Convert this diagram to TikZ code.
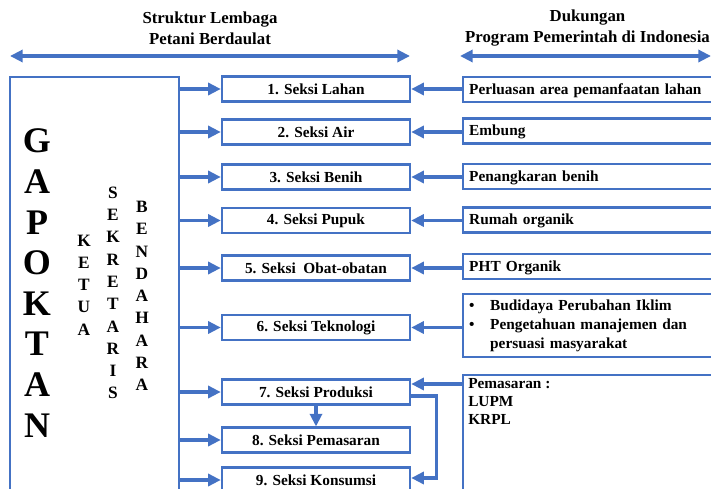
\documentclass[tikz,border=0pt]{standalone}
\usepackage{fontspec}
\setmainfont{Liberation Serif}
\usetikzlibrary{arrows.meta,calc}
\definecolor{bl}{RGB}{68,114,196}
\begin{document}
\begin{tikzpicture}[x=0.75pt,y=-0.75pt,
  ttl/.style={font=\fontsize{12.6}{15.75}\selectfont\bfseries, align=center, inner sep=0pt},
  sek/.style={draw=bl, line width=1.8pt, fill=white, minimum width=141pt,
    minimum height=18.5pt, inner sep=0pt, font=\fontsize{11.5}{13}\selectfont\bfseries},
  rbox/.style={draw=bl, line width=1.8pt, anchor=west, minimum height=18.5pt,
    text width=184.5pt, inner xsep=4.5pt, inner ysep=0pt, align=left,
    font=\fontsize{11.5}{14.25}\selectfont\bfseries},
  rline/.style={rbox, text height=8.2pt, text depth=1.2pt},
  stack/.style={align=center, inner sep=0pt, font=\fontsize{13}{16.7}\selectfont\bfseries},
  tip/.tip={Triangle[length=9.5pt,width=9pt]},
  arr/.style={draw=bl, line width=2.5pt, -tip},
  darr/.style={draw=bl, line width=2.5pt, tip-tip}
]
\clip (0,0) rectangle (711,489);

% column headings
\node[ttl] (t1) at (210,28.5) {Struktur Lembaga\\Petani Berdaulat};
\node[ttl] (t2) at (587.5,28.5) {Dukungan\\Program Pemerintah di Indonesia};
\coordinate (la) at (10,56);
\coordinate (lb) at (410,56);
\coordinate (ra) at (460,56);
\coordinate (rb) at (711,56);
\draw[darr] (la) -- (lb);
\draw[darr] (ra) -- (rb);

% GAPOKTAN block with its officers
\node[draw=bl, line width=1.8pt, anchor=north west, minimum width=126.75pt,
  minimum height=340pt, inner sep=0pt] (gap) at (9,76) {};
\node[align=center, inner sep=0pt, font=\fontsize{27}{30.45}\selectfont\bfseries]
  (gname) at (37,283) {G\\A\\P\\O\\K\\T\\A\\N};
\node[stack] (ketua) at (84,285) {K\\E\\T\\U\\A};
\node[stack] (sekr) at (113,293) {S\\E\\K\\R\\E\\T\\A\\R\\I\\S};
\node[stack] (bend) at (142,296) {B\\E\\N\\D\\A\\H\\A\\R\\A};

% sections
\node[sek] (s1) at (316,89) {1. Seksi Lahan};
\node[sek] (s2) at (316,132) {2. Seksi Air};
\node[sek] (s3) at (316,177) {3. Seksi Benih};
\node[sek] (s4) at (316,220.5) {4. Seksi Pupuk};
\node[sek] (s5) at (316,268) {5. Seksi\ \ Obat-obatan};
\node[sek] (s6) at (316,327.5) {6. Seksi Teknologi};
\node[sek] (s7) at (316,392) {7. Seksi Produksi};
\node[sek] (s8) at (316,440) {8. Seksi Pemasaran};
\node[sek] (s9) at (316,480) {9. Seksi Konsumsi};

% government programmes
\node[rline] (r1) at (462,89.5) {Perluasan area pemanfaatan lahan};
\node[rline] (r2) at (462,131) {Embung};
\node[rline] (r3) at (462,176.5) {Penangkaran benih};
\node[rline] (r4) at (462,220) {Rumah organik};
\node[rline] (r5) at (462,266.5) {PHT Organik};
\node[rbox, minimum height=47.25pt] (r6) at (462,325.5)
  {\makebox[15.75pt][l]{•}Budidaya Perubahan Iklim\\
   \makebox[15.75pt][l]{•}Pengetahuan manajemen dan\\
   \hspace*{15.75pt}persuasi masyarakat};
\node[rbox, anchor=north west, minimum height=110pt] (r7) at (462,374) {};
\node[anchor=north west, align=left, inner xsep=4.5pt, inner ysep=3pt,
  font=\fontsize{11.5}{13.5}\selectfont\bfseries] (r7t) at (r7.north west)
  {Pemasaran :\\LUPM\\KRPL};

% GAPOKTAN to sections
\foreach \s in {s1,s2,s3,s4,s5,s6,s7,s8,s9}
  \draw[arr] (gap.east |- \s.west) -- (\s.west);

% programmes to sections
\foreach \r/\s in {r1/s1,r2/s2,r3/s3,r4/s4,r5/s5,r6/s6}
  \draw[arr] (\r.west |- \s.east) -- (\s.east);
\coordinate (s7in) at ([yshift=6pt]s7.east);
\draw[arr] (r7.west |- s7in) -- (s7in);

% production flows to marketing and consumption
\draw[arr] (s7.south) -- (s8.north);
\coordinate (s7out) at ([yshift=-3pt]s7.east);
\coordinate (s9in) at ([yshift=1.5pt]s9.east);
\draw[arr] (s7out) -- ([xshift=18.75pt]s7out) |- (s9in);
\end{tikzpicture}
\end{document}
